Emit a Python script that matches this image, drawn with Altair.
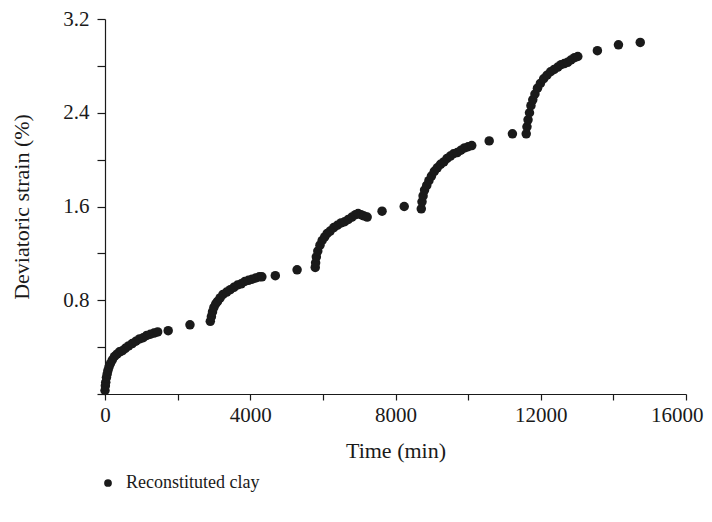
import altair as alt
import pandas as pd

# Time (min) and deviatoric strain (%)
time_min = [
    0, 10, 20, 40, 60, 80, 110, 150, 200, 260, 330, 400, 480, 560, 650, 750,
    850, 950, 1050, 1150, 1250, 1350, 1450, 1740, 2340,
    2900, 2930, 2960, 3000, 3050, 3100, 3170, 3250, 3350, 3450, 3550, 3650,
    3750, 3850, 3950, 4050, 4150, 4250, 4320, 4690, 5290,
    5790, 5800, 5820, 5860, 5920, 5980, 6050, 6120, 6200, 6300, 6400, 6500,
    6600, 6700, 6800, 6900, 6970, 7050, 7130, 7220, 7630, 8240,
    8710, 8730, 8760, 8800, 8860, 8920, 8990, 9070, 9150, 9240, 9330, 9420,
    9510, 9600, 9700, 9800, 9900, 10000, 10100, 10580, 11220,
    11600, 11620, 11650, 11690, 11730, 11780, 11840, 11910, 11990, 12080,
    12170, 12270, 12370, 12470, 12560, 12650, 12740, 12830, 12930, 13020,
    13560, 14140, 14740,
]
strain_pct = [
    0.03, 0.07, 0.10, 0.14, 0.17, 0.20, 0.23, 0.26, 0.29, 0.32, 0.34, 0.36, 0.37, 0.39, 0.41, 0.43,
    0.45, 0.47, 0.48, 0.50, 0.51, 0.52, 0.53, 0.54, 0.59,
    0.62, 0.66, 0.70, 0.74, 0.77, 0.79, 0.82, 0.85, 0.87, 0.89, 0.91, 0.93,
    0.94, 0.96, 0.97, 0.98, 0.99, 1.00, 1.00, 1.01, 1.06,
    1.08, 1.12, 1.17, 1.22, 1.27, 1.31, 1.34, 1.37, 1.39, 1.42, 1.44, 1.46,
    1.47, 1.49, 1.51, 1.53, 1.54, 1.53, 1.52, 1.51, 1.56, 1.60,
    1.58, 1.64, 1.69, 1.74, 1.78, 1.82, 1.86, 1.90, 1.93, 1.96, 1.98, 2.01,
    2.03, 2.05, 2.06, 2.08, 2.10, 2.11, 2.12, 2.16, 2.22,
    2.22, 2.28, 2.34, 2.40, 2.46, 2.51, 2.56, 2.61, 2.65, 2.69,
    2.72, 2.75, 2.77, 2.79, 2.81, 2.82, 2.83, 2.85, 2.87, 2.88,
    2.93, 2.98, 3.00,
]
series_name = "Reconstituted clay"

x_ticks = [0, 2000, 4000, 6000, 8000, 10000, 12000, 14000, 16000]
y_ticks = [0, 0.4, 0.8, 1.2, 1.6, 2.0, 2.4, 2.8, 3.2]

df = pd.DataFrame({"time": time_min, "strain": strain_pct, "series": series_name})

FONT = "Liberation Serif"
INK = "#1a1a1a"

chart = alt.Chart(df).mark_circle(size=90, opacity=1).encode(
    x=alt.X("time:Q",
            scale=alt.Scale(domain=[0, 16000], nice=False, zero=True),
            axis=alt.Axis(values=x_ticks, title="Time (min)",
                          labelExpr="datum.value % 4000 == 0 ? format(datum.value, 'd') : ''",
                          labelAlign={"condition": {"test": "datum.value >= 16000", "value": "right"}, "value": "center"},
                          labelOffset={"condition": {"test": "datum.value >= 16000", "value": 17}, "value": 0},
                          grid=False, tickSize=6, labelPadding=4, titlePadding=15,
                          labelFontSize=21, titleFontSize=22, labelFlush=False)),
    y=alt.Y("strain:Q",
            scale=alt.Scale(domain=[0, 3.2], nice=False),
            axis=alt.Axis(values=y_ticks, title="Deviatoric strain (%)",
                          labelExpr="(datum.value > 0 && abs(datum.value/0.8 - round(datum.value/0.8)) < 0.01) ? format(datum.value, '.1f') : ''",
                          grid=False, tickSize=8, labelPadding=8, titlePadding=29,
                          labelFontSize=21, titleFontSize=22)),
    color=alt.Color("series:N",
                    scale=alt.Scale(range=[INK]),
                    legend=alt.Legend(title=None, orient="none", legendX=-6, legendY=455,
                                      symbolType="circle", symbolSize=60,
                                      labelFontSize=18, labelOffset=9, symbolStrokeWidth=0)),
).properties(
    width=581, height=375,
    autosize=alt.AutoSizeParams(type="none"),
    padding={"left": 97, "top": 11, "right": 18, "bottom": 116},
).configure_view(stroke=None).configure_axis(
    domainColor=INK, tickColor=INK, labelColor=INK, titleColor=INK,
    labelFont=FONT, titleFont=FONT, titleFontWeight="normal", domainWidth=1.2, tickWidth=1.2,
).configure_legend(labelFont=FONT, labelColor=INK)

chart.save("out.html", embed_options={"renderer": "svg", "actions": False})
